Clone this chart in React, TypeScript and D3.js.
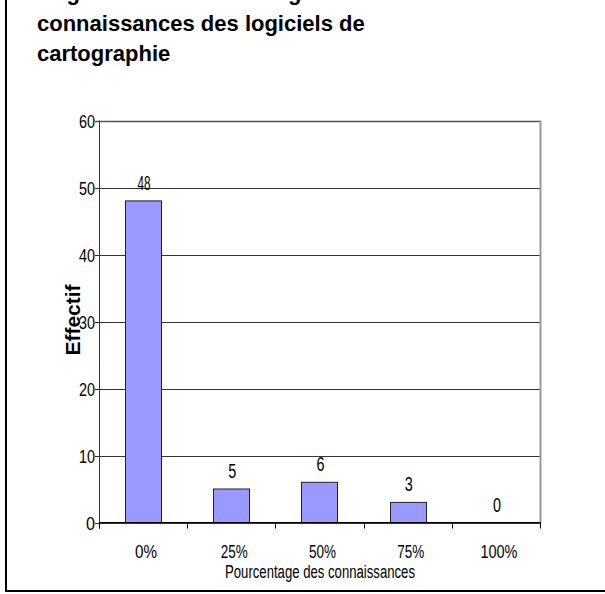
import React from "react";
import * as d3 from "d3";

const categories = ["0%", "25%", "50%", "75%", "100%"];
const values = [48, 5, 6, 3, 0];
const yTicks = [0, 10, 20, 30, 40, 50, 60];
const titleLines = ["Figure n° 3 : Pourcentage des", "connaissances des logiciels de", "cartographie"];
const xTitle = "Pourcentage des connaissances";
const yTitle = "Effectif";

const W = 605;
const H = 594;
const plotLeft = 99;
const plotRight = 540;
const plotTop = 120.5;
const plotBottom = 522.5;

export default function App() {
  const x = d3.scaleBand<string>().domain(categories).range([plotLeft, plotRight]).padding(0);
  const y = d3.scaleLinear().domain([0, 60]).range([plotBottom, plotTop]);
  const bw = x.bandwidth();
  const barW = bw * 0.41;
  const font = "'Liberation Sans', Arial, sans-serif";
  const xTickPos = categories.map((c) => x(c) as number).concat([plotRight]);

  return (
    <svg
      width={W}
      height={H}
      style={{ position: "absolute", left: 0, top: 0, background: "#fff" }}
      fontFamily={font}
    >
      <rect x={0} y={0} width={W} height={H} fill="#fff" />
      {/* frame */}
      <line x1={6} y1={0} x2={6} y2={592} stroke="#000" strokeWidth={2} />
      <line x1={5} y1={591} x2={W} y2={591} stroke="#000" strokeWidth={2} />

      {/* title */}
      {titleLines.map((t, i) => (
        <text key={i} x={i === 0 ? 47 : 37} y={0 + i * 30.5} fontSize={22} fontWeight="bold" fill="#000">
          {t}
        </text>
      ))}

      {/* gridlines */}
      {yTicks.map((t) => (
        <line
          key={t}
          x1={plotLeft - 4}
          x2={plotRight}
          y1={Math.round(y(t)) + 0.5}
          y2={Math.round(y(t)) + 0.5}
          stroke={t === 60 ? "#555" : "#333"}
          strokeWidth={t === 60 ? 1.5 : 1}
        />
      ))}
      {/* right border */}
      <line x1={plotRight + 0.5} x2={plotRight + 0.5} y1={plotTop} y2={plotBottom} stroke="#999" strokeWidth={2} />

      {/* bars */}
      {values.map((v, i) => {
        const cx = (x(categories[i]) as number) + bw / 2;
        return (
          <rect
            key={i}
            x={Math.round(cx - barW / 2) + 0.5}
            y={y(v)}
            width={Math.round(barW)}
            height={plotBottom - y(v)}
            fill="#9999FF"
            stroke="#222"
            strokeWidth={1}
          />
        );
      })}

      {/* y axis */}
      <line x1={plotLeft + 0.5} x2={plotLeft + 0.5} y1={plotTop} y2={plotBottom + 6} stroke="#333" strokeWidth={1} />
      {/* x axis */}
      <line x1={plotLeft} x2={plotRight + 1} y1={plotBottom} y2={plotBottom} stroke="#000" strokeWidth={1.2} />
      {xTickPos.map((p, i) => (
        <line key={i} x1={Math.round(p) + 0.5} x2={Math.round(p) + 0.5} y1={plotBottom} y2={plotBottom + 6} stroke="#000" strokeWidth={1} />
      ))}

      {/* y tick labels */}
      {yTicks.map((t) => {
        const s = String(t);
        return (
          <text
            key={t}
            x={95}
            y={y(t) + 7}
            fontSize={19}
            textAnchor="end"
            textLength={s.length === 1 ? 9 : 16}
            lengthAdjust="spacingAndGlyphs"
            fill="#000"
          >
            {s}
          </text>
        );
      })}

      {/* value labels */}
      {values.map((v, i) => {
        const cx = (x(categories[i]) as number) + bw / 2;
        const s = String(v);
        const len = s.length === 1 ? 8 : 13;
        return (
          <text
            key={i}
            x={cx - len / 2 + 1}
            y={y(v) - 11}
            fontSize={20}
            textLength={len}
            lengthAdjust="spacingAndGlyphs"
            fill="#000"
          >
            {s}
          </text>
        );
      })}

      {/* x tick labels */}
      {categories.map((c, i) => {
        const cx = (x(c) as number) + bw / 2 + 3;
        const len = c.length === 2 ? 22 : c.length === 3 ? 27 : 37;
        return (
          <text
            key={c}
            x={cx - len / 2}
            y={558}
            fontSize={18}
            textLength={len}
            lengthAdjust="spacingAndGlyphs"
            fill="#000"
          >
            {c}
          </text>
        );
      })}

      {/* x title */}
      <text x={225} y={578} fontSize={18} textLength={190} lengthAdjust="spacingAndGlyphs" fill="#000">
        {xTitle}
      </text>

      {/* y title */}
      <text
        transform={`translate(80,320) rotate(-90)`}
        textAnchor="middle"
        fontSize={21}
        fontWeight="bold"
        fill="#000"
      >
        {yTitle}
      </text>
    </svg>
  );
}
